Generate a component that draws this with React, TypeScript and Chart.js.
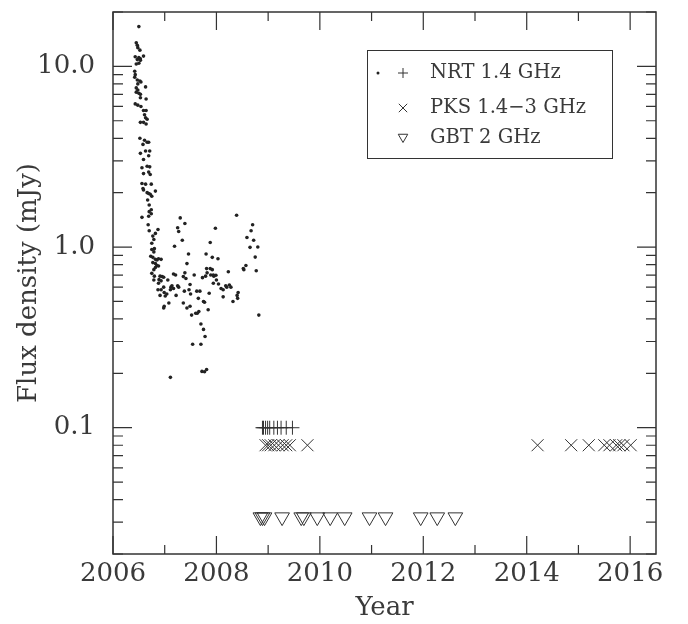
import { useEffect, useRef } from "react"
import { Chart, registerables } from "chart.js"
import type { Plugin } from "chart.js"

Chart.register(...registerables)

// NRT 1.4 GHz detections (year, mJy)
const nrtYears = [
  2006.50, 2006.45, 2006.47, 2006.48, 2006.52, 2006.43, 2006.50, 2006.53, 2006.47, 2006.59,
  2006.53, 2006.45, 2006.50, 2006.42, 2006.43, 2006.42, 2006.47, 2006.52, 2006.54, 2006.48,
  2006.45, 2006.48, 2006.45, 2006.50, 2006.53, 2006.63, 2006.53, 2006.64, 2006.43, 2006.48,
  2006.54, 2006.59, 2006.64, 2006.61, 2006.63, 2006.66, 2006.53, 2006.59, 2006.64, 2006.52,
  2006.61, 2006.66, 2006.69, 2006.58, 2006.53, 2006.63, 2006.71, 2006.69, 2006.59, 2006.66,
  2006.71, 2006.56, 2006.69, 2006.59, 2006.72,
  2006.56, 2006.63, 2006.74, 2006.58, 2006.59, 2006.66, 2006.69, 2006.72, 2006.75, 2006.82,
  2006.67, 2006.70, 2006.74, 2006.70, 2006.74, 2006.56, 2006.69, 2006.68, 2006.82, 2006.87,
  2006.70, 2006.77, 2006.79, 2006.75, 2006.80, 2006.75, 2006.79, 2006.73, 2006.77, 2006.82,
  2006.85, 2006.88, 2006.93, 2006.77, 2006.82, 2006.85, 2006.88, 2006.79, 2006.82, 2006.75,
  2006.80, 2006.91, 2006.95, 2006.98, 2006.89, 2006.79, 2006.88, 2006.93, 2007.06, 2006.98,
  2006.87, 2006.93, 2006.91, 2006.99, 2007.01, 2007.04, 2007.08, 2006.98, 2006.99, 2007.11,
  2007.12, 2007.14, 2007.17, 2007.25, 2007.27, 2007.22, 2007.17, 2007.21, 2007.19, 2007.30,
  2007.25, 2007.27, 2007.39, 2007.34, 2007.36, 2007.41, 2007.39, 2007.43, 2007.46, 2007.49,
  2007.47, 2007.50, 2007.38, 2007.36, 2007.43, 2007.49, 2007.52, 2007.60, 2007.63, 2007.66,
  2007.62, 2007.68, 2007.65, 2007.75, 2007.77, 2007.84, 2007.86, 2007.57, 2007.73, 2007.79,
  2007.82, 2007.81, 2007.88, 2007.92, 2007.89, 2007.94, 2007.95, 2007.99, 2008.00, 2008.04,
  2007.94, 2007.80, 2007.92, 2008.03, 2007.88, 2007.98, 2008.23, 2008.09, 2008.13, 2008.20,
  2008.25, 2008.28, 2008.13, 2008.18, 2008.32, 2008.40, 2008.42, 2008.41, 2008.39, 2008.70,
  2008.67, 2008.59, 2008.72, 2008.65, 2008.80, 2008.75, 2008.77, 2008.57, 2008.52, 2008.53,
  2008.82, 2007.70, 2007.75, 2007.78, 2007.70, 2007.54, 2007.72, 2007.77, 2007.81, 2007.11,
]
const nrtFlux = [
  16.6, 13.5, 13.1, 12.7, 12.3, 11.3, 11.2, 11.0, 10.9, 11.4,
  10.8, 10.3, 10.4, 9.4, 9.0, 8.7, 8.4, 8.3, 8.2, 8.0,
  7.6, 7.4, 7.2, 7.1, 7.0, 7.7, 6.7, 6.6, 6.2, 6.1,
  6.0, 5.7, 5.7, 5.4, 5.2, 5.1, 4.9, 4.9, 4.8, 4.0,
  3.9, 3.8, 3.8, 3.7, 3.3, 3.4, 3.4, 3.2, 3.05, 2.8,
  2.78, 2.75, 2.6, 2.55, 2.52,
  2.25, 2.23, 2.23, 2.11, 2.07, 2.0, 1.98, 1.96, 1.91, 2.04,
  1.82, 1.71, 1.61, 1.57, 1.53, 1.46, 1.48, 1.33, 1.19, 1.25,
  1.23, 1.15, 1.10, 1.05, 0.98, 0.97, 0.94, 0.89, 0.877, 0.855,
  0.848, 0.862, 0.855, 0.82, 0.81, 0.79, 0.785, 0.75, 0.77, 0.715,
  0.69, 0.69, 0.686, 0.68, 0.66, 0.657, 0.63, 0.65, 0.657, 0.60,
  0.58, 0.58, 0.54, 0.56, 0.536, 0.55, 0.49, 0.46, 0.47, 0.58,
  0.60, 0.61, 0.59, 0.61, 0.60, 0.54, 0.71, 0.70, 1.01, 1.45,
  1.28, 1.22, 1.35, 1.09, 0.686, 0.67, 0.72, 0.81, 0.915, 0.62,
  0.58, 0.55, 0.57, 0.49, 0.46, 0.47, 0.42, 0.43, 0.43, 0.44,
  0.57, 0.57, 0.52, 0.50, 0.495, 0.45, 0.555, 0.70, 0.677, 0.69,
  0.72, 0.76, 0.76, 0.75, 0.70, 0.70, 0.69, 0.698, 0.657, 0.625,
  0.63, 0.915, 0.877, 0.862, 1.06, 1.27, 0.73, 0.59, 0.58, 0.60,
  0.617, 0.60, 0.53, 0.61, 0.50, 0.54, 0.56, 0.52, 1.50, 1.33,
  1.23, 1.13, 1.09, 0.996, 1.0, 0.88, 0.74, 0.79, 0.76, 0.75,
  0.42, 0.375, 0.35, 0.32, 0.29, 0.29, 0.205, 0.204, 0.21, 0.19,
]

// upper limits
const nrtLimitYears = [2008.89, 2008.91, 2008.95, 2008.99, 2009.03, 2009.11, 2009.18, 2009.25, 2009.35, 2009.47]
const nrtLimit = 0.1
const pksYears = [
  2008.95, 2009.0, 2009.05, 2009.12, 2009.2, 2009.28, 2009.35, 2009.42, 2009.76,
  2014.21, 2014.86, 2015.2, 2015.5, 2015.6, 2015.73, 2015.79, 2015.87, 2016.01,
]
const pksLimit = 0.08
const gbtYears = [
  2008.85, 2008.89, 2008.93, 2009.27, 2009.64, 2009.69, 2009.95, 2010.2, 2010.48,
  2010.96, 2011.27, 2011.95, 2012.27, 2012.62,
]
const gbtLimit = 0.032

const legendLabels = ["NRT 1.4 GHz", "PKS 1.4\u22123 GHz", "GBT 2 GHz"]
const yearTicks = [2006, 2008, 2010, 2012, 2014, 2016]
const fluxTicks = [0.1, 1, 10]

const INK = "#3a3a3a"
const FONT = "'DejaVu Serif', serif"

// frame, inward ticks on all four sides, and the boxed legend
const framePlugin: Plugin<"scatter"> = {
  id: "frame",
  afterDraw(chart) {
    const { ctx, chartArea: ca } = chart
    const xs = chart.scales.x
    const ys = chart.scales.y
    ctx.save()
    ctx.strokeStyle = "#333"
    ctx.lineWidth = 1.5
    ctx.strokeRect(ca.left, ca.top, ca.right - ca.left, ca.bottom - ca.top)

    ctx.lineWidth = 1.2
    ctx.beginPath()
    for (let yr = Math.ceil(xs.min); yr <= xs.max; yr++) {
      const px = xs.getPixelForValue(yr)
      const len = yr % 2 === 0 ? 18 : 9
      ctx.moveTo(px, ca.bottom)
      ctx.lineTo(px, ca.bottom - len)
      ctx.moveTo(px, ca.top)
      ctx.lineTo(px, ca.top + len)
    }
    for (let d = -2; d <= 1; d++) {
      for (let m = 1; m <= 9; m++) {
        const v = m * Math.pow(10, d)
        if (v < ys.min || v > ys.max) continue
        const py = ys.getPixelForValue(v)
        const len = m === 1 ? 19 : 10
        ctx.moveTo(ca.left, py)
        ctx.lineTo(ca.left + len, py)
        ctx.moveTo(ca.right, py)
        ctx.lineTo(ca.right - len, py)
      }
    }
    ctx.stroke()

    // legend
    const lx = ca.left + 254
    const ly = ca.top + 38
    ctx.lineWidth = 1
    ctx.strokeRect(lx + 0.5, ly + 0.5, 245, 108)
    const rows = [23, 58, 88]
    const sx = lx + 36
    ctx.fillStyle = "#222"
    ctx.beginPath()
    ctx.arc(lx + 11, ly + rows[0], 1.5, 0, Math.PI * 2)
    ctx.fill()
    ctx.beginPath()
    ctx.moveTo(sx - 5, ly + rows[0])
    ctx.lineTo(sx + 5, ly + rows[0])
    ctx.moveTo(sx, ly + rows[0] - 5)
    ctx.lineTo(sx, ly + rows[0] + 5)
    ctx.moveTo(sx - 4.2, ly + rows[1] - 4.2)
    ctx.lineTo(sx + 4.2, ly + rows[1] + 4.2)
    ctx.moveTo(sx + 4.2, ly + rows[1] - 4.2)
    ctx.lineTo(sx - 4.2, ly + rows[1] + 4.2)
    const r = 5.5
    const ty = ly + rows[2] - 1
    ctx.moveTo(sx, ty + r)
    ctx.lineTo(sx - r * 0.866, ty - r * 0.5)
    ctx.lineTo(sx + r * 0.866, ty - r * 0.5)
    ctx.closePath()
    ctx.stroke()

    ctx.fillStyle = INK
    ctx.font = `19.5px ${FONT}`
    ctx.textBaseline = "middle"
    ctx.textAlign = "left"
    legendLabels.forEach((t, i) => ctx.fillText(t, lx + 63, ly + rows[i]))
    ctx.restore()
  },
}

export default function App() {
  const canvasRef = useRef<HTMLCanvasElement>(null)

  useEffect(() => {
    if (!canvasRef.current) return
    const chart = new Chart(canvasRef.current, {
      type: "scatter",
      data: {
        datasets: [
          {
            label: legendLabels[0],
            data: nrtYears.map((x, i) => ({ x, y: nrtFlux[i] })),
            pointStyle: "circle",
            pointRadius: 1.8,
            backgroundColor: "#222",
            borderWidth: 0,
          },
          {
            label: legendLabels[0] + " limit",
            data: nrtLimitYears.map((x) => ({ x, y: nrtLimit })),
            pointStyle: "cross",
            pointRadius: 7,
            borderColor: "#333",
            borderWidth: 1,
          },
          {
            label: legendLabels[1],
            data: pksYears.map((x) => ({ x, y: pksLimit })),
            pointStyle: "crossRot",
            pointRadius: 8.5,
            borderColor: "#333",
            borderWidth: 1,
          },
          {
            label: legendLabels[2],
            data: gbtYears.map((x) => ({ x, y: gbtLimit })),
            pointStyle: "triangle",
            pointRotation: 180,
            pointRadius: 8.5,
            backgroundColor: "rgba(0,0,0,0)",
            borderColor: "#333",
            borderWidth: 1,
          },
        ],
      },
      options: {
        animation: false,
        responsive: true,
        maintainAspectRatio: false,
        events: [],
        layout: { padding: { top: 12, right: 32, left: 0, bottom: 0 } },
        plugins: { legend: { display: false }, tooltip: { enabled: false } },
        scales: {
          x: {
            type: "linear",
            min: 2006,
            max: 2016.5,
            afterBuildTicks: (s) => {
              s.ticks = yearTicks.map((value) => ({ value }))
            },
            afterFit: (s) => {
              s.height = 70
              s.paddingLeft = 0
              s.paddingRight = 0
              s.paddingTop = 0
              s.paddingBottom = 0
            },
            grid: { display: false, drawTicks: false },
            border: { display: false },
            ticks: {
              callback: (v) => String(v),
              font: { family: FONT, size: 26 },
              color: INK,
              padding: 5,
              maxRotation: 0,
              autoSkip: false,
            },
            title: {
              display: true,
              text: "Year",
              font: { family: FONT, size: 26 },
              color: INK,
              padding: { top: 0, bottom: 0 },
            },
          },
          y: {
            type: "logarithmic",
            min: 0.02,
            max: 20,
            afterBuildTicks: (s) => {
              s.ticks = fluxTicks.map((value) => ({ value }))
            },
            afterFit: (s) => {
              s.width = 113
              s.paddingLeft = 0
              s.paddingRight = 0
              s.paddingTop = 0
              s.paddingBottom = 0
            },
            grid: { display: false, drawTicks: false },
            border: { display: false },
            ticks: {
              callback: (v) => Number(v).toFixed(1),
              font: { family: FONT, size: 26 },
              color: INK,
              padding: 18,
              autoSkip: false,
            },
            title: {
              display: true,
              text: "Flux density (mJy)",
              font: { family: FONT, size: 26 },
              color: INK,
              padding: { top: 14, bottom: 0 },
            },
          },
        },
      },
      plugins: [framePlugin],
    })
    return () => chart.destroy()
  }, [])

  return (
    <div style={{ position: "fixed", left: 0, top: 0, width: 688, height: 624, background: "#fff" }}>
      <canvas ref={canvasRef} />
    </div>
  )
}
